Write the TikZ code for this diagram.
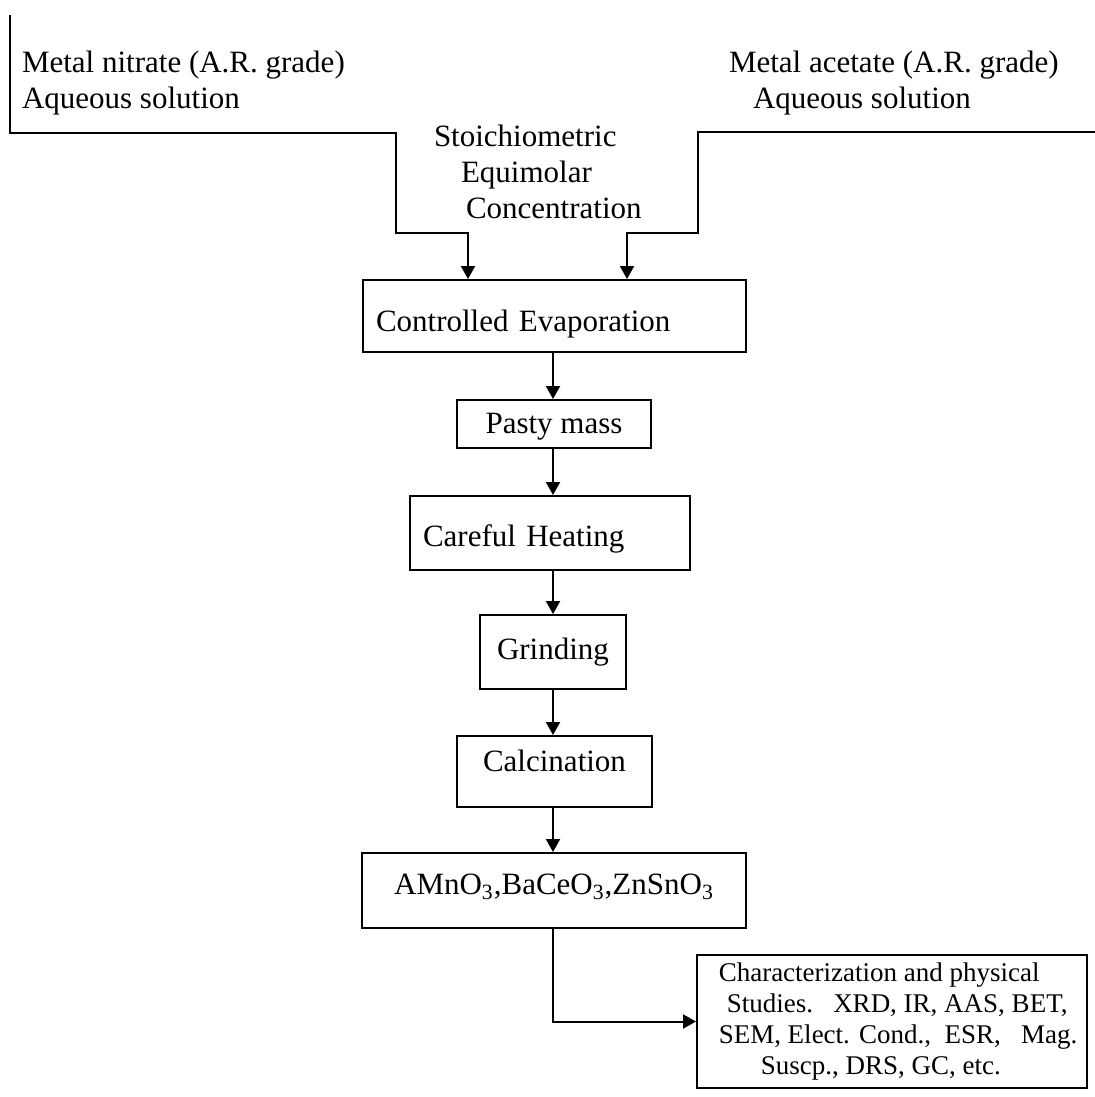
\documentclass[tikz,border=0pt]{standalone}
\usepackage{fontspec}
\setmainfont{Liberation Serif}
\usetikzlibrary{arrows.meta, positioning}
\tikzset{
  every picture/.style={line width=1pt},
  txt/.style={font=\fontsize{15.5}{18}\selectfont},
  stage/.style={txt, draw, rectangle, inner xsep=6.5pt, inner ysep=0pt, align=center},
  lstage/.style={stage, align=left},
  label/.style={txt, align=left, anchor=north west, inner sep=0pt},
  arrow/.style={-{Triangle[length=6.5pt, width=7pt]}},
}

\begin{document}
\begin{tikzpicture}[x=0.5pt, y=-0.5pt]
  \useasboundingbox (0,0) rectangle (1095,1097);
  % the two solutions
  \node[label] (nitrate) at (21,50) {Metal nitrate (A.R. grade)\\Aqueous solution};
  \node[label] (acetate) at (728,50) {Metal acetate (A.R. grade)\\\hspace*{12pt}Aqueous solution};
  \node[label] (ratio) at (433,124) {Stoichiometric\\\hspace*{13.5pt}Equimolar\\\hspace*{16pt}Concentration};
  % process chain
  \node[lstage, minimum height=36pt, text width=178.5pt, text height=18.5pt] (evap) at (554.5,316) {Controlled Evaporation};
  \node[stage, minimum width=97pt, minimum height=24pt, text height=13pt] (pasty) at (554,424) {Pasty mass};
  \node[lstage, minimum height=37pt, text width=127pt, text height=16.5pt] (heat) at (550,533) {Careful Heating};
  \node[stage, minimum width=73pt, minimum height=37pt] (grind) at (553,652) {Grinding};
  \node[stage, minimum width=97.5pt, minimum height=35.5pt, text depth=11pt] (calc) at (554.5,771.5) {Calcination};
  \node[stage, minimum width=192pt, minimum height=37.5pt, text depth=6pt] (prod) at (554,890.5) {AMnO\textsubscript{3},BaCeO\textsubscript{3},ZnSnO\textsubscript{3}};
  \node[stage, align=left, inner xsep=3pt, font=\fontsize{13.5}{15.5}\selectfont, minimum width=195pt, minimum height=66.5pt] (char) at (892,1021.5)
    {\hspace*{6pt}Characterization and physical\\\hspace*{10pt}Studies.\ \ \ XRD, IR, AAS, BET,\\\hspace*{6pt}SEM, Elect. Cond.,\ \ ESR,\ \ \ Mag.\\\hspace*{27pt}Suscp., DRS, GC, etc.};
  \coordinate (spine) at (553,0);
  \coordinate (ntop) at (10,15);
  \coordinate (aend) at (1095,132);
  \draw[arrow] (ntop) |- (396,133) |- (468,233) -- (468,0 |- evap.north);
  \draw[arrow] (aend) -- (698,132) |- (627,233) -- (627,0 |- evap.north);
  \foreach \a/\b in {evap/pasty, pasty/heat, heat/grind, grind/calc, calc/prod}
    \draw[arrow] (spine |- \a.south) -- (spine |- \b.north);
  \draw[arrow] (spine |- prod.south) |- (char.west);
\end{tikzpicture}
\end{document}
